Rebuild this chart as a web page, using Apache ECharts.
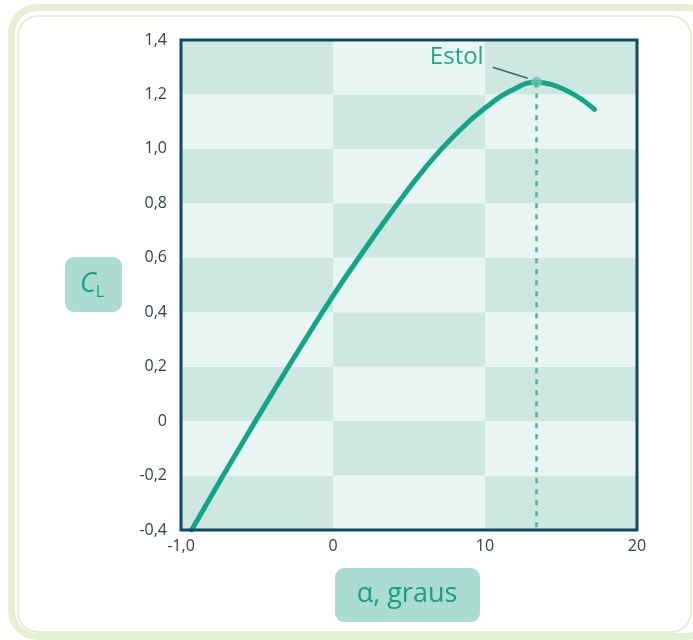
<!DOCTYPE html>
<html>
<head>
<meta charset="utf-8">
<script src="https://cdn.jsdelivr.net/npm/echarts@6/dist/echarts.min.js"></script>
<style>
  html, body { margin: 0; padding: 0; background: #ffffff; }
  #chart { width: 693px; height: 640px; }
</style>
</head>
<body>
<div id="chart"></div>
<script>
// Lift curve: angle of attack (degrees) vs lift coefficient
const alpha = [-9.3, -8, -6, -4, -2, 0, 2, 4, 6, 8, 10, 12, 13.4, 14.4, 15.4, 16.3, 17.2];
const liftCoef = [-0.4, -0.274, -0.084, 0.102, 0.284, 0.46, 0.624, 0.78, 0.926, 1.05, 1.15, 1.222, 1.245, 1.236, 1.213, 1.184, 1.145];

// Stall point
const stall = [13.4, 1.245];
const stallLabel = 'Estol';

// Axis ticks and their labels
const xTicks = [-10, 0, 10, 20];
const xTickLabels = ['-1,0', '0', '10', '20'];
const yTicks = [-0.4, -0.2, 0, 0.2, 0.4, 0.6, 0.8, 1.0, 1.2, 1.4];
const yTickLabels = ['-0,4', '-0,2', '0', '0,2', '0,4', '0,6', '0,8', '1,0', '1,2', '1,4'];

const xName = 'α, graus';

const TEAL = '#13a587';
const DARK_CELL = '#cfe7e1';
const LIGHT_CELL = '#e9f5f3';
const FONT = '"Open Sans", "Noto Sans", sans-serif';

// Checkerboard background built from the tick grid
const cells = [];
for (let j = 0; j < xTicks.length - 1; j++) {
  for (let i = 0; i < yTicks.length - 1; i++) {
    const rowFromTop = yTicks.length - 2 - i;
    const dark = (rowFromTop + j) % 2 === 0;
    cells.push([
      { xAxis: xTicks[j], yAxis: yTicks[i], itemStyle: { color: dark ? DARK_CELL : LIGHT_CELL } },
      { xAxis: xTicks[j + 1], yAxis: yTicks[i + 1] }
    ]);
  }
}

const labelFor = (ticks, labels) => v => {
  const k = ticks.findIndex(t => Math.abs(t - v) < 1e-6);
  return k >= 0 ? labels[k] : '';
};

const chart = echarts.init(document.getElementById('chart'), null, { renderer: 'canvas' });

const option = {
  animation: false,
  backgroundColor: '#ffffff',
  grid: {
    left: 181, top: 40, right: 56, bottom: 110,
    show: true,
    backgroundColor: 'transparent',
    borderColor: '#0e4a63',
    borderWidth: 3,
    z: 10,
    outerBoundsMode: 'none'
  },
  xAxis: {
    type: 'value',
    min: -10, max: 20, interval: 10,
    axisLine: { show: false },
    axisTick: { show: false },
    splitLine: { show: false },
    axisLabel: {
      margin: 8,
      color: '#33414f',
      fontFamily: FONT,
      fontSize: 16,
      formatter: labelFor(xTicks, xTickLabels)
    }
  },
  yAxis: {
    type: 'value',
    min: -0.4, max: 1.4, interval: 0.2,
    axisLine: { show: false },
    axisTick: { show: false },
    splitLine: { show: false },
    axisLabel: {
      margin: 14,
      color: '#33414f',
      fontFamily: FONT,
      fontSize: 16,
      formatter: labelFor(yTicks, yTickLabels)
    }
  },
  series: [
    {
      // checkerboard cells
      type: 'line',
      data: [],
      silent: true,
      z: 0,
      markArea: { silent: true, data: cells }
    },
    {
      type: 'line',
      data: alpha.map((a, i) => [a, liftCoef[i]]),
      smooth: 0.5,
      showSymbol: false,
      lineStyle: { color: TEAL, width: 5, cap: 'round' },
      z: 3,
      markLine: {
        silent: true,
        symbol: ['none', 'none'],
        label: { show: false },
        lineStyle: { color: '#3fb99b', width: 2.5, type: [5, 6] },
        data: [[{ coord: [stall[0], stall[1]] }, { coord: [stall[0], yTicks[0]] }]]
      }
    },
    {
      type: 'scatter',
      data: [stall],
      symbolSize: 11,
      itemStyle: { color: '#6cc5b1' },
      z: 4
    }
  ]
};

chart.setOption(option);

// Stall label with leader line, axis name boxes and the rounded frame
const p = chart.convertToPixel({ gridIndex: 0 }, stall);
chart.setOption({
  graphic: [
    {
      type: 'rect', z: -10, silent: true,
      shape: { x: 11.5, y: 7.5, width: 700, height: 629, r: 26 },
      style: { fill: 'none', stroke: '#e6efd2', lineWidth: 7 }
    },
    {
      type: 'rect', z: -10, silent: true,
      shape: { x: 18, y: 16, width: 673, height: 616, r: 20 },
      style: { fill: 'none', stroke: '#e1ebca', lineWidth: 1.5 }
    },
    {
      type: 'text', z: 100,
      x: p[0] - 53, y: p[1] - 13,
      style: {
        text: stallLabel, fill: '#22a78b', font: '24px ' + FONT,
        align: 'right', verticalAlign: 'bottom'
      }
    },
    {
      type: 'line', z: 100,
      shape: { x1: p[0] - 44, y1: p[1] - 15, x2: p[0] - 9, y2: p[1] - 4 },
      style: { stroke: '#2e6f72', lineWidth: 1.5 }
    },
    {
      type: 'rect', z: 100,
      shape: { x: 65, y: 257, width: 57, height: 55, r: 9 },
      style: { fill: '#acdcd1' }
    },
    {
      type: 'text', z: 101,
      x: 80, y: 284,
      style: {
        text: '{c|C}{s|L}',
        verticalAlign: 'middle',
        rich: {
          c: { fontFamily: FONT, fontSize: 27, fontStyle: 'italic', fill: '#17a088', color: '#17a088' },
          s: { fontFamily: FONT, fontSize: 16, fill: '#17a088', color: '#17a088', padding: [16, 0, 0, 0] }
        }
      }
    },
    {
      type: 'rect', z: 100,
      shape: { x: 335, y: 568, width: 145, height: 54, r: 9 },
      style: { fill: '#acdcd1' }
    },
    {
      type: 'text', z: 101,
      x: 407, y: 594,
      style: {
        text: xName, fill: '#17a088', font: '27px ' + FONT,
        align: 'center', verticalAlign: 'middle'
      }
    }
  ]
});
</script>
</body>
</html>
